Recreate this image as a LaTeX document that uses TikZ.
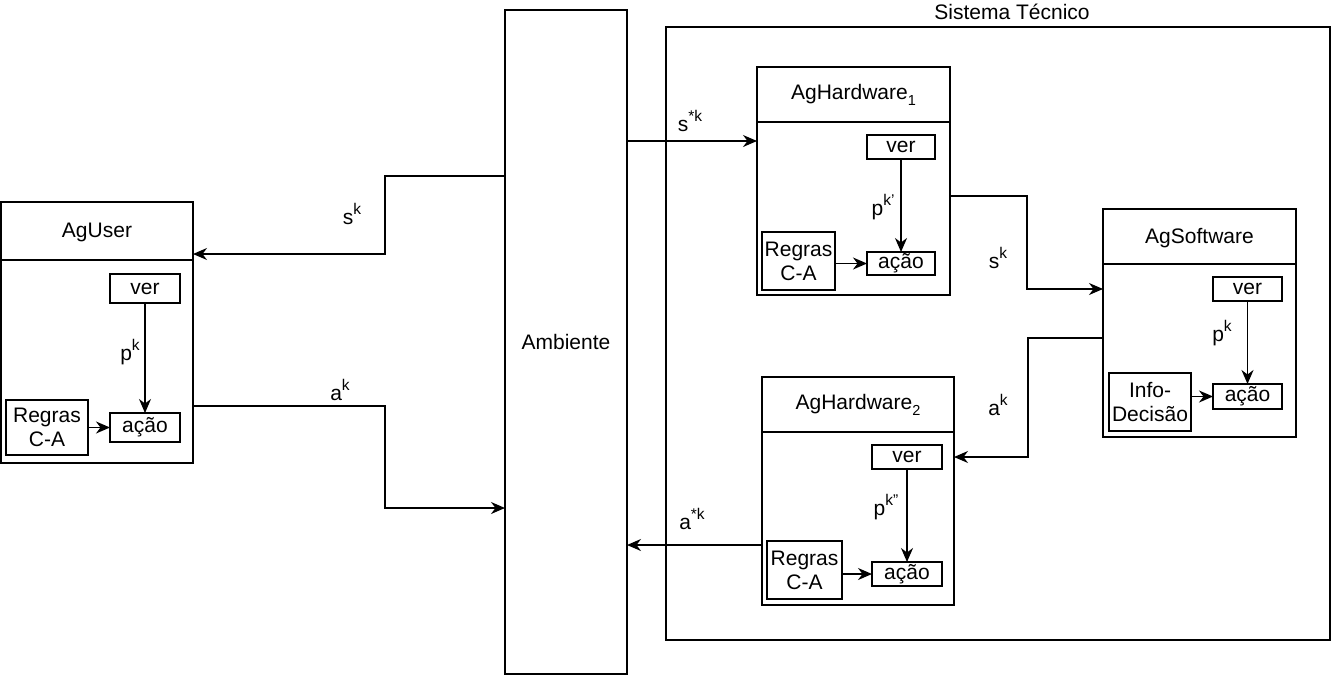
\documentclass[tikz,border=0pt]{standalone}
\usepackage{fontspec}
\setmainfont{Liberation Sans}
\usetikzlibrary{arrows.meta}
\newcommand\mysup[1]{\raisebox{0.45em}{\fontsize{15.5}{15.5}\selectfont #1}}
\newcommand\mysub[1]{\raisebox{-0.25em}{\fontsize{14.5}{14.5}\selectfont #1}}
\begin{document}
\begin{tikzpicture}[x=1pt,y=-1pt,
  every node/.style={font=\fontsize{21}{24}\selectfont, inner sep=0pt, outer sep=0pt},
  box/.style={draw, line width=1.4pt, rectangle},
  divline/.style={line width=1.4pt},
  arr/.style={line width=1.4pt, -{Stealth[length=14pt,width=12pt,inset=4.5pt]}},
  lbl/.style={align=center}
]
\useasboundingbox (0,0) rectangle (1332,678);

% Ambiente and Sistema Tecnico
\node[box, minimum width=122pt, minimum height=664pt] (amb) at (566,342) {Ambiente};
\node[box, minimum width=664pt, minimum height=613pt] (sist) at (998,333.5) {};
\node (sisttitle) at (1012,12) {Sistema Técnico};

% AgUser
\node[box, minimum width=192pt, minimum height=261pt] (aguser) at (97,332.5) {};
\node (agusertitle) at (97,232) {AgUser};
\draw[divline] (aguser.west |- 0,260) -- (aguser.east |- 0,260);
\node[box, minimum width=70pt, minimum height=29pt] (veru) at (145,288.5) {ver};
\node[box, minimum width=70pt, minimum height=29pt] (acaou) at (145,427.5) {ação};
\node[box, minimum width=82pt, minimum height=55pt, lbl] (regrasu) at (47,427.5) {Regras\\C-A};
\draw[arr] (veru.south) -- (acaou.north);
\draw[arr] (regrasu.east |- acaou.west) -- (acaou.west);
\node (pku) at (130,352) {p\mysup{k}};

% AgHardware1
\node[box, minimum width=193pt, minimum height=228pt] (hw1) at (853.5,181) {};
\node (hw1title) at (853.5,95) {AgHardware\mysub{1}};
\draw[divline] (hw1.west |- 0,122) -- (hw1.east |- 0,122);
\node[box, minimum width=68pt, minimum height=24pt] (verh1) at (901,147) {ver};
\node[box, minimum width=68pt, minimum height=23pt] (acaoh1) at (901,263.5) {ação};
\node[box, minimum width=73pt, minimum height=58pt, lbl] (regrash1) at (798.5,261) {Regras\\C-A};
\draw[arr] (verh1.south) -- (acaoh1.north);
\draw[arr] (regrash1.east |- acaoh1.west) -- (acaoh1.west);
\node (pkh1) at (883,207) {p\mysup{k'}};

% AgSoftware
\node[box, minimum width=193pt, minimum height=228pt] (sw) at (1199.5,323) {};
\node (swtitle) at (1199.5,238) {AgSoftware};
\draw[divline] (sw.west |- 0,264) -- (sw.east |- 0,264);
\node[box, minimum width=69pt, minimum height=24pt] (vers) at (1247.5,289) {ver};
\node[box, minimum width=69pt, minimum height=25pt] (acaos) at (1247.5,396.5) {ação};
\node[box, minimum width=82pt, minimum height=58pt, lbl] (info) at (1150,402) {Info-\\Decisão};
\draw[arr] (vers.south) -- (acaos.north);
\draw[arr] (info.east |- acaos.west) -- (acaos.west);
\node (pks) at (1222,333) {p\mysup{k}};

% AgHardware2
\node[box, minimum width=192pt, minimum height=228pt] (hw2) at (858,491) {};
\node (hw2title) at (858,405) {AgHardware\mysub{2}};
\draw[divline] (hw2.west |- 0,432) -- (hw2.east |- 0,432);
\node[box, minimum width=70pt, minimum height=24pt] (verh2) at (907,457) {ver};
\node[box, minimum width=70pt, minimum height=24pt] (acaoh2) at (907,574) {ação};
\node[box, minimum width=75pt, minimum height=58pt, lbl] (regrash2) at (804.5,570) {Regras\\C-A};
\draw[arr] (verh2.south) -- (acaoh2.north);
\draw[arr] (regrash2.east |- acaoh2.west) -- (acaoh2.west);
\node (pkh2) at (886,507) {p\mysup{k''}};

% Connectors
\draw[arr] (amb.west |- 0,176) -| (385,215) |- (aguser.east |- 0,254);
\node (sku) at (352,214) {s\mysup{k}};
\draw[arr] (aguser.east |- 0,406) -| (385,460) |- (amb.west |- 0,508);
\node (aku) at (340,390) {a\mysup{k}};
\draw[arr] (amb.east |- 0,141) -- (hw1.west |- 0,141);
\node (sstar) at (690,121) {s\mysup{*k}};
\draw[arr] (hw1.east |- 0,196) -| (1027,240) |- (sw.west |- 0,289);
\node (sks) at (998,258) {s\mysup{k}};
\draw[arr] (sw.west |- 0,338) -| (1028,400) |- (hw2.east |- 0,457);
\node (aks) at (998,405) {a\mysup{k}};
\draw[arr] (hw2.west |- 0,545) -- (amb.east |- 0,545);
\node (astar) at (692,519) {a\mysup{*k}};
\end{tikzpicture}
\end{document}
